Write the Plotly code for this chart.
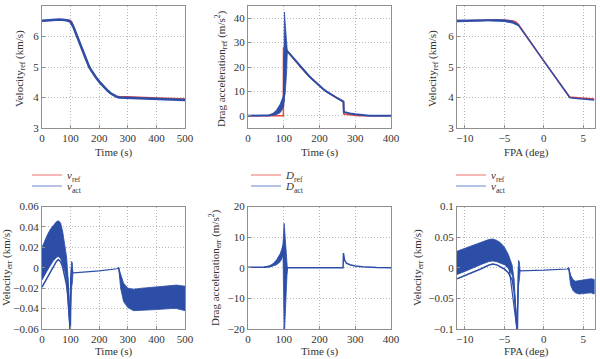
import plotly.graph_objects as go

# ---------------- data ----------------
# Top-left: velocity vs time
time_v_ref = [0, 20, 40, 60, 80, 95, 100, 105, 110, 115, 120, 130, 140, 150, 160, 165, 170, 180, 190, 200, 210, 220, 230, 240, 250, 260, 270, 300, 350, 370, 400, 450, 500]
v_ref = [6.52, 6.53, 6.55, 6.56, 6.55, 6.53, 6.52, 6.46, 6.33, 6.20, 6.07, 5.80, 5.54, 5.31, 5.10, 5.00, 4.92, 4.77, 4.64, 4.52, 4.41, 4.31, 4.22, 4.14, 4.08, 4.04, 4.03, 4.02, 4.01, 4.00, 3.98, 3.97, 3.95]
time_v_act = [0, 20, 40, 60, 80, 95, 100, 105, 110, 115, 120, 130, 140, 150, 160, 165, 170, 180, 190, 200, 210, 220, 230, 240, 250, 260, 270, 300, 350, 400, 450, 500]
v_act = [6.52, 6.53, 6.55, 6.56, 6.54, 6.51, 6.47, 6.40, 6.31, 6.19, 6.07, 5.80, 5.54, 5.31, 5.10, 5.00, 4.92, 4.77, 4.64, 4.52, 4.41, 4.31, 4.22, 4.14, 4.08, 4.03, 4.00, 3.99, 3.98, 3.96, 3.94, 3.92]

# Top-middle: drag acceleration vs time
time_d_ref = [0, 99, 99.2, 104, 110, 120, 130, 140, 150, 160, 170, 180, 190, 200, 210, 220, 230, 240, 250, 260, 267, 268, 280, 290, 300, 310, 400]
d_ref = [0, 0, 28, 27.3, 26.5, 24.8, 23.0, 21.2, 19.5, 17.9, 16.4, 15.0, 13.6, 12.2, 11.0, 9.9, 8.9, 8.0, 7.2, 6.4, 5.8, 0.7, 0.5, 0.3, 0.1, 0, 0]
time_d_act = [0, 50, 60, 70, 80, 90, 95, 100, 102, 106, 110, 120, 130, 140, 150, 160, 170, 180, 190, 200, 210, 220, 230, 240, 250, 260, 267, 268, 275, 290, 300, 320, 340, 400]
d_act = [0, 0, 0.2, 0.6, 1.4, 3.0, 4.5, 6.2, 25, 25, 26.5, 24.8, 23.0, 21.2, 19.5, 17.9, 16.4, 15.0, 13.6, 12.2, 11.0, 9.9, 8.9, 8.0, 7.2, 6.4, 5.8, 1.6, 1.3, 0.8, 0.6, 0.3, 0.05, 0]
band_d_t = [50, 60, 70, 80, 90, 95, 100, 101, 102, 104, 106, 108, 110]
band_d_hi = [0, 0.3, 1.0, 2.4, 4.8, 6.8, 8.5, 30, 42.5, 38, 33, 29, 26.5]
band_d_lo = [0, 0, 0.2, 0.5, 1.3, 2.4, 4.0, 6, 8, 9, 12, 18, 26.5]

# Top-right: velocity vs flight path angle
fpa_ref = [-11, -10, -9, -8, -7, -6, -5, -4.5, -4, -3.6, -3.2, 0, 3.3, 3.6, 4, 4.5, 5, 5.5, 6, 6.4]
v_ref_fpa = [6.51, 6.52, 6.53, 6.54, 6.54, 6.54, 6.53, 6.53, 6.52, 6.49, 6.39, 5.20, 4.01, 4.01, 4.00, 3.99, 3.98, 3.97, 3.96, 3.95]
fpa_act = [-11, -10, -9, -8, -7, -6, -5, -4.5, -4, -3.6, -3.2, 0, 3.3, 3.6, 4, 4.5, 5, 5.5, 6, 6.4]
v_act_fpa = [6.51, 6.52, 6.53, 6.54, 6.54, 6.54, 6.52, 6.50, 6.47, 6.43, 6.37, 5.20, 4.00, 3.98, 3.97, 3.96, 3.95, 3.94, 3.93, 3.92]
band_vf_x = [-11, -9, -7, -5, -4, -3.5, -3.2]
band_vf_hi = [6.54, 6.55, 6.56, 6.55, 6.51, 6.45, 6.39]
band_vf_lo = [6.48, 6.50, 6.51, 6.49, 6.44, 6.39, 6.35]

# Bottom-left: velocity error vs time
time_ve = [0, 57, 90, 98, 100, 103, 108, 110, 200, 262, 268, 280, 300, 400, 500]
v_err = [0.004, 0.03, -0.01, -0.06, -0.01, 0.0, -0.005, -0.005, -0.003, -0.001, 0.0, -0.02, -0.03, -0.03, -0.03]
band_ve1_t = [0, 10, 20, 30, 40, 50, 57, 65, 72, 80, 86, 90, 95, 98]
band_ve1_hi = [0.020, 0.027, 0.033, 0.038, 0.042, 0.045, 0.046, 0.044, 0.036, 0.022, 0.0105, -0.005, -0.03, -0.06]
band_ve1_lo = [-0.012, -0.007, -0.002, 0.003, 0.007, 0.010, 0.011, 0.009, 0.004, -0.004, -0.013, -0.022, -0.045, -0.06]
line_ve_low = [-0.019, -0.014, -0.009, -0.004, 0.001, 0.006, 0.008, 0.006, 0.001, -0.008, -0.017, -0.027, -0.05, -0.06]
band_ve2_t = [98, 100, 103, 106, 108]
band_ve2_hi = [-0.06, -0.01, 0.006, 0.005, -0.004]
band_ve2_lo = [-0.06, -0.06, -0.02, -0.015, -0.006]
band_ve3_t = [268, 275, 285, 300, 320, 350, 400, 450, 470, 500]
band_ve3_hi = [0, -0.006, -0.015, -0.020, -0.021, -0.020, -0.019, -0.018, -0.017, -0.018]
band_ve3_lo = [0, -0.020, -0.033, -0.039, -0.042, -0.042, -0.041, -0.040, -0.040, -0.042]

# Bottom-middle: drag acceleration error vs time
time_de = [0, 45, 60, 70, 80, 90, 95, 99, 104, 110, 266, 267, 270, 275, 285, 300, 320, 340, 360, 400]
d_err = [0.2, 0.2, 0.5, 1.0, 2.0, 3.8, 5.2, 7.5, -5, 0, 0, 4.8, 2.5, 1.5, 1.0, 0.6, 0.35, 0.2, 0.05, 0]
band_de1_t = [45, 60, 70, 80, 90, 95, 99]
band_de1_hi = [0.2, 0.6, 1.3, 2.6, 4.6, 6.2, 8.2]
band_de1_lo = [0.2, 0.2, 0.5, 1.0, 2.0, 3.0, 4.5]
band_de2_t = [98, 99.5, 101, 102.5, 104, 106, 108, 110]
band_de2_hi = [8, 11, 14.5, 12.5, 10, 7, 3, 0]
band_de2_lo = [4.5, -12, -20, -20, -18, -12, -5, 0]

# Bottom-right: velocity error vs flight path angle
fpa_ve = [-11, -7, -4.5, -3.4, -3.2, -3.0, 0, 3.0, 3.15, 3.5, 4, 5, 6, 6.4]
v_err_fpa = [0.01, 0.03, 0.01, -0.1, 0.0, -0.005, -0.004, -0.002, 0, -0.02, -0.03, -0.03, -0.03, -0.03]
band_vf1_x = [-11, -10, -9, -8, -7, -6.5, -6, -5.5, -5, -4.5, -4, -3.75, -3.55, -3.4]
band_vf1_hi = [0.027, 0.032, 0.037, 0.042, 0.046, 0.047, 0.045, 0.041, 0.034, 0.022, 0.004, -0.02, -0.06, -0.1]
band_vf1_lo = [-0.011, -0.006, -0.001, 0.005, 0.010, 0.011, 0.010, 0.008, 0.005, -0.001, -0.012, -0.032, -0.068, -0.1]
line_vf_low = [-0.018, -0.013, -0.008, -0.002, 0.004, 0.006, 0.005, 0.002, -0.002, -0.008, -0.02, -0.04, -0.075, -0.1]
band_vf2_x = [-3.4, -3.3, -3.2, -3.1, -3.0]
band_vf2_hi = [-0.1, -0.02, 0.012, 0.01, -0.004]
band_vf2_lo = [-0.1, -0.1, -0.03, -0.02, -0.006]
band_vf3_x = [3.15, 3.4, 3.7, 4, 4.5, 5, 5.5, 6, 6.4]
band_vf3_hi = [0, -0.012, -0.019, -0.022, -0.021, -0.020, -0.019, -0.018, -0.019]
band_vf3_lo = [0, -0.028, -0.037, -0.041, -0.043, -0.042, -0.041, -0.041, -0.043]

# Axis titles
x_titles = ["Time (s)", "Time (s)", "FPA (deg)", "Time (s)", "Time (s)", "FPA (deg)"]
y_titles = [
    "Velocity<sub>ref</sub> (km/s)",
    "Drag acceleration<sub>ref</sub> (m/s<sup>2</sup>)",
    "Velocity<sub>ref</sub> (km/s)",
    "Velocity<sub>err</sub> (km/s)",
    "Drag acceleration<sub>err</sub> (m/s<sup>2</sup>)",
    "Velocity<sub>err</sub> (km/s)",
]

# ---------------- styling ----------------
RED = "#e8443f"
BLUE = "#2d4ea7"
RED_LEG = "#ee6e6a"
BLUE_LEG = "#6f86cc"
FONT = "Liberation Serif"
TXT = "#333333"

fig = go.Figure()

def band(x, hi, lo, xa, ya):
    fig.add_trace(go.Scatter(
        x=list(x) + list(reversed(x)), y=list(hi) + list(reversed(lo)),
        fill="toself", fillcolor=BLUE, mode="lines",
        line=dict(color=BLUE, width=0.8), showlegend=False,
        xaxis=xa, yaxis=ya, hoverinfo="skip"))

def line(x, y, color, width, xa, ya):
    fig.add_trace(go.Scatter(
        x=x, y=y, mode="lines", line=dict(color=color, width=width),
        showlegend=False, xaxis=xa, yaxis=ya))

def legend_entry(name, color, legend, xa, ya):
    fig.add_trace(go.Scatter(
        x=[None], y=[None], mode="lines", line=dict(color=color, width=1.2),
        name=name, showlegend=True, legend=legend, xaxis=xa, yaxis=ya))

# Plot 1
line(time_v_ref, v_ref, RED, 1.5, "x", "y")
line(time_v_act, v_act, BLUE, 2.5, "x", "y")
legend_entry("<i>v</i><sub>ref</sub>", RED_LEG, "legend", "x", "y")
legend_entry("<i>v</i><sub>act</sub>", BLUE_LEG, "legend2", "x", "y")
# Plot 2
line(time_d_ref, d_ref, RED, 1.5, "x2", "y2")
line(time_d_act, d_act, BLUE, 2, "x2", "y2")
band(band_d_t, band_d_hi, band_d_lo, "x2", "y2")
legend_entry("<i>D</i><sub>ref</sub>", RED_LEG, "legend3", "x2", "y2")
legend_entry("<i>D</i><sub>act</sub>", BLUE_LEG, "legend4", "x2", "y2")
# Plot 3
line(fpa_ref, v_ref_fpa, RED, 1.5, "x3", "y3")
line(fpa_act, v_act_fpa, BLUE, 1.5, "x3", "y3")
band(band_vf_x, band_vf_hi, band_vf_lo, "x3", "y3")
legend_entry("<i>v</i><sub>ref</sub>", RED_LEG, "legend5", "x3", "y3")
legend_entry("<i>v</i><sub>act</sub>", BLUE_LEG, "legend6", "x3", "y3")
# Plot 4
line(time_ve, v_err, BLUE, 1.2, "x4", "y4")
band(band_ve1_t, band_ve1_hi, band_ve1_lo, "x4", "y4")
line(band_ve1_t, line_ve_low, BLUE, 1.5, "x4", "y4")
band(band_ve2_t, band_ve2_hi, band_ve2_lo, "x4", "y4")
band(band_ve3_t, band_ve3_hi, band_ve3_lo, "x4", "y4")
# Plot 5
line(time_de, d_err, BLUE, 1.5, "x5", "y5")
band(band_de1_t, band_de1_hi, band_de1_lo, "x5", "y5")
band(band_de2_t, band_de2_hi, band_de2_lo, "x5", "y5")
# Plot 6
line(fpa_ve, v_err_fpa, BLUE, 1.2, "x6", "y6")
band(band_vf1_x, band_vf1_hi, band_vf1_lo, "x6", "y6")
line(band_vf1_x, line_vf_low, BLUE, 1.5, "x6", "y6")
band(band_vf2_x, band_vf2_hi, band_vf2_lo, "x6", "y6")
band(band_vf3_x, band_vf3_hi, band_vf3_lo, "x6", "y6")

W, H = 600, 359
def px_x(a, b):
    return [a / W, b / W]
def px_y(top, bottom):
    return [1 - bottom / H, 1 - top / H]

axis_common = dict(
    showline=True, mirror=True, linecolor="#8f8f8f", linewidth=1,
    showgrid=True, gridcolor="#b8b8b8", griddash="1px,2px", gridwidth=1,
    zeroline=False, ticks="inside", ticklen=3, tickcolor="#8f8f8f",
    tickfont=dict(family=FONT, size=11, color=TXT),
    automargin=False,
)

cols = [(42, 185), (248, 391), (457, 595)]
rows = [(6, 128), (206.5, 329)]
xtitle_y = [152, 351]
ytitle_x = [20, 221, 433, 7, 215, 418]
ytitle_y = [69, 268]

xspecs = [
    dict(range=[0, 500], dtick=100),
    dict(range=[0, 400], dtick=100),
    dict(range=[-11, 6.5], tickvals=[-10, -5, 0, 5]),
    dict(range=[0, 500], dtick=100),
    dict(range=[0, 400], dtick=100),
    dict(range=[-11, 6.5], tickvals=[-10, -5, 0, 5]),
]
yspecs = [
    dict(range=[3, 7], dtick=1),
    dict(range=[-5, 45], tickvals=[0, 10, 20, 30, 40]),
    dict(range=[3, 7], dtick=1),
    dict(range=[-0.06, 0.06], dtick=0.02),
    dict(range=[-20, 20], dtick=10),
    dict(range=[-0.1, 0.1], dtick=0.05),
]

title_font = dict(family=FONT, size=11, color=TXT)
layout = {}
annotations = []
for i in range(6):
    r, c = divmod(i, 3)
    sfx = "" if i == 0 else str(i + 1)
    xa = dict(axis_common, **xspecs[i])
    xa.update(domain=px_x(*cols[c]), anchor="y" + sfx)
    ya = dict(axis_common, **yspecs[i])
    ya.update(domain=px_y(*rows[r]), anchor="x" + sfx)
    layout["xaxis" + sfx] = xa
    layout["yaxis" + sfx] = ya
    annotations.append(dict(
        text=x_titles[i], xref="paper", yref="paper",
        x=(cols[c][0] + cols[c][1]) / 2 / W, y=1 - xtitle_y[r] / H,
        xanchor="center", yanchor="middle", showarrow=False, font=title_font))
    annotations.append(dict(
        text=y_titles[i], xref="paper", yref="paper", textangle=-90,
        x=ytitle_x[i] / W, y=1 - ytitle_y[r] / H,
        xanchor="center", yanchor="middle", showarrow=False, font=title_font))

leg_font = dict(family=FONT, size=11, color=TXT)
def leg(xpx, ypx):
    return dict(x=xpx / W, y=1 - ypx / H, xanchor="left", yanchor="middle",
                bgcolor="rgba(0,0,0,0)", font=leg_font, itemwidth=30)

layout.update(
    legend=leg(27, 175), legend2=leg(27, 186),
    legend3=leg(246, 175), legend4=leg(246, 186),
    legend5=leg(451, 175), legend6=leg(451, 186),
)

fig.update_layout(
    width=W, height=H, margin=dict(l=0, r=0, t=0, b=0, autoexpand=False),
    paper_bgcolor="white", plot_bgcolor="white",
    font=dict(family=FONT, size=11, color=TXT),
    annotations=annotations,
    **layout,
)

fig.write_html(
    "out.html",
    config={"displayModeBar": False},
    post_script="document.body.style.margin='0px';document.body.style.padding='0px';",
)
